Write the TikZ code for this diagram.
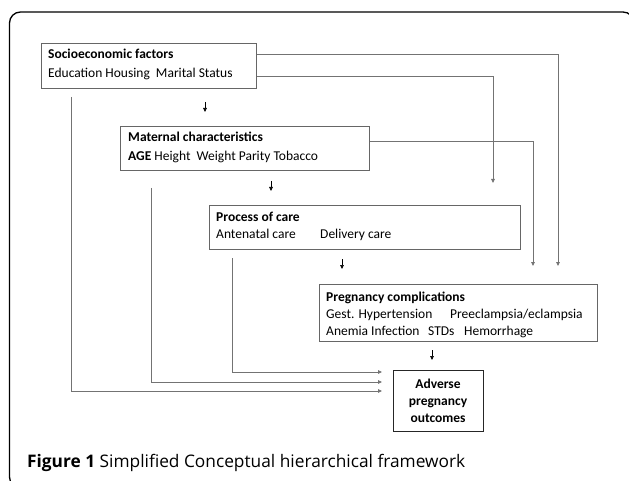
\documentclass[tikz,border=0pt]{standalone}
\usepackage{fontspec}
\setmainfont{Carlito}
\newfontfamily\capfont{Open Sans}
\usetikzlibrary{arrows.meta}
\begin{document}
\begin{tikzpicture}[x=1pt,y=-1pt,
  box/.style={draw=black!60, line width=0.8pt, inner sep=0pt, anchor=north west},
  obox/.style={draw=black!85, line width=1.3pt, inner sep=0pt, anchor=north west},
  txt/.style={anchor=base west, inner sep=0pt, font=\fontsize{13.5}{16}\selectfont},
  btxt/.style={txt, font=\fontsize{13.5}{16}\selectfont\bfseries},
  conn/.style={draw=black!55, line width=0.8pt},
  tip/.style={-{Triangle[length=4pt,width=3.6pt]}},
  small/.style={draw=black, line width=0.6pt, -{Triangle[length=4pt,width=3.6pt]}}]
\useasboundingbox (0,0) rectangle (629,481);
\begin{scope}
\clip (0,0) rectangle (629,481);
\draw[line width=1.3pt, rounded corners=11pt] (9.5,12) rectangle (634,488);
\end{scope}

% boxes
\node[box, minimum width=215pt, minimum height=45pt] (socio) at (41,43) {};
\node[box, minimum width=249pt, minimum height=44pt] (mat) at (120,126) {};
\node[box, minimum width=311pt, minimum height=44pt] (proc) at (209,205) {};
\node[box, minimum width=278pt, minimum height=57pt] (comp) at (319,284) {};
\node[obox, minimum width=90pt, minimum height=61pt] (adv) at (393,370) {};

% texts
\node[btxt] (t1) at (48,59) {Socioeconomic factors};
\node[txt] (t2) at (48,78) {Education Housing\ \ Marital Status};
\node[btxt] (t3) at (128,142) {Maternal characteristics};
\node[txt] (t4) at (128,161) {\textbf{AGE} Height\ \ Weight Parity Tobacco};
\node[btxt] (t5) at (216,222) {Process of care};
\node[txt] (t6) at (216,239) {Antenatal care};
\node[txt] (t7) at (320,239) {Delivery care};
\node[btxt] (t8) at (326,301) {Pregnancy complications};
\node[txt] (t9) at (326,318) {Gest. Hypertension};
\node[txt] (t10) at (450,318) {Preeclampsia/eclampsia};
\node[txt] (t11) at (326,335) {Anemia Infection};
\node[txt] (t12) at (428,335) {STDs};
\node[txt] (t13) at (464,335) {Hemorrhage};
\node[btxt, anchor=base] (a1) at (438,388) {Adverse};
\node[btxt, anchor=base] (a2) at (438,405) {pregnancy};
\node[btxt, anchor=base] (a3) at (438,422) {outcomes};

% caption
\node[anchor=base west, inner sep=0pt, font=\capfont\fontsize{17.3}{20}\selectfont] (cap) at (27,467) {\textbf{Figure 1} Simplified Conceptual hierarchical framework};

% coordinates
\coordinate (s1) at (socio.east |- 0,54);
\coordinate (s2) at (socio.east |- 0,76);
\coordinate (m1) at (mat.east |- 0,141);
\coordinate (e1) at (558,266);
\coordinate (e2) at (493,183);
\coordinate (e3) at (533,266);
\coordinate (l1) at (71,97);
\coordinate (l2) at (151,188);
\coordinate (l3) at (232,258);
\coordinate (r1) at (382,391);
\coordinate (r2) at (382,382);
\coordinate (r3) at (382,372);

\draw[conn, tip] (s1) -| (e1);
\draw[conn, tip] (s2) -| (e2);
\draw[conn, tip] (m1) -| (e3);
\draw[conn, tip] (l1) |- (r1);
\draw[conn, tip] (l2) |- (r2);
\draw[conn, tip] (l3) |- (r3);

% small hierarchy arrows
\coordinate (h1a) at (205,102); \coordinate (h1b) at (205,112);
\coordinate (h2a) at (271,181); \coordinate (h2b) at (271,191);
\coordinate (h3a) at (342,259); \coordinate (h3b) at (342,269);
\coordinate (h4a) at (432,350); \coordinate (h4b) at (432,360);
\draw[small] (h1a) -- (h1b);
\draw[small] (h2a) -- (h2b);
\draw[small] (h3a) -- (h3b);
\draw[small] (h4a) -- (h4b);
\end{tikzpicture}
\end{document}
